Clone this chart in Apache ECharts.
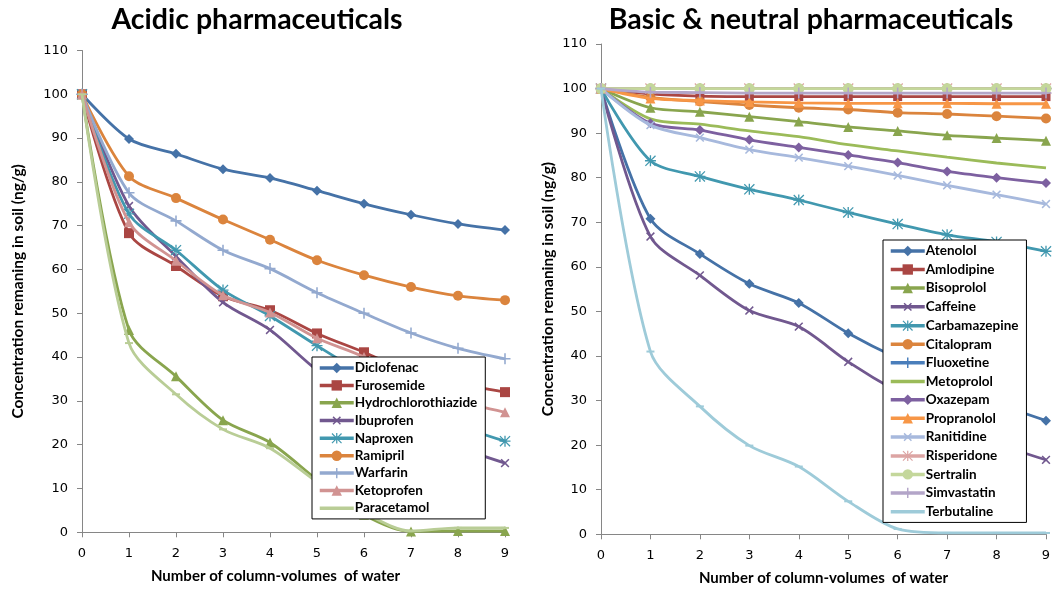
<!DOCTYPE html>
<html><head><meta charset="utf-8">
<script src="https://cdn.jsdelivr.net/npm/echarts@6/dist/echarts.min.js"></script>
<style>html,body{margin:0;padding:0;background:#fff}#c{width:1052px;height:590px}</style>
</head><body><div id="c"></div>
<script>
// ---- data ----
var xValues = [0,1,2,3,4,5,6,7,8,9];
var yTicks = [0,10,20,30,40,50,60,70,80,90,100,110];

// Acidic pharmaceuticals
var diclofenac = [100, 89.8, 86.4, 82.9, 80.9, 78.0, 75.0, 72.5, 70.4, 69.0];
var furosemide = [100, 68.3, 60.8, 53.9, 50.7, 45.4, 41.1, 36.5, 34.0, 32.0];
var hydrochlorothiazide = [100, 46.2, 35.6, 25.6, 20.5, 12.0, 4.0, 0.2, 0.3, 0.3];
var ibuprofen = [100, 74.5, 63.0, 52.5, 46.2, 37.0, 30.0, 24.5, 19.5, 15.8];
var naproxen = [100, 72.7, 64.4, 55.3, 49.4, 42.6, 36.0, 30.0, 24.5, 20.8];
var ramipril = [100, 81.3, 76.3, 71.4, 66.8, 62.1, 58.7, 56.0, 54.0, 53.0];
var warfarin = [100, 77.5, 71.1, 64.4, 60.2, 54.7, 50.0, 45.5, 42.0, 39.6];
var ketoprofen = [100, 70.8, 62.0, 54.1, 50.2, 44.3, 40.0, 33.5, 30.0, 27.4];
var paracetamol = [100, 43.2, 31.5, 23.5, 19.2, 11.5, 4.5, 0.3, 1.0, 1.0];

// Basic & neutral pharmaceuticals
var atenolol = [100, 70.8, 62.9, 56.2, 51.9, 45.1, 39.5, 35.0, 29.5, 25.5];
var amlodipine = [100, 98.8, 98.3, 98.2, 98.2, 98.2, 98.2, 98.2, 98.2, 98.2];
var bisoprolol = [100, 95.7, 94.8, 93.7, 92.6, 91.4, 90.5, 89.5, 88.9, 88.3];
var caffeine = [100, 66.8, 58.1, 50.2, 46.6, 38.7, 32.0, 26.5, 20.5, 16.7];
var carbamazepine = [100, 83.8, 80.3, 77.4, 75.0, 72.2, 69.6, 67.2, 65.6, 63.5];
var citalopram = [100, 98.0, 97.1, 96.3, 95.7, 95.3, 94.6, 94.3, 93.8, 93.3];
var fluoxetine = [100, 100, 100, 100, 100, 100, 100, 100, 100, 100];
var metoprolol = [100, 93.2, 92.0, 90.5, 89.2, 87.4, 86.0, 84.6, 83.3, 82.2];
var oxazepam = [100, 92.2, 90.7, 88.5, 86.8, 85.1, 83.4, 81.4, 80.0, 78.8];
var propranolol = [100, 97.8, 97.3, 97.0, 96.8, 96.7, 96.7, 96.7, 96.6, 96.6];
var ranitidine = [100, 91.8, 89.0, 86.3, 84.5, 82.6, 80.5, 78.3, 76.2, 74.1];
var risperidone = [100, 100, 100, 100, 100, 100, 100, 100, 100, 100];
var sertralin = [100, 100, 100, 100, 100, 100, 100, 100, 100, 100];
var simvastatin = [100, 99.2, 99.1, 99.0, 99.0, 99.0, 99.0, 99.0, 99.0, 99.0];
var terbutaline = [100, 41.0, 28.7, 19.9, 15.2, 7.4, 1.2, 0.3, 0.3, 0.3];

var leftNames = ['Diclofenac','Furosemide','Hydrochlorothiazide','Ibuprofen','Naproxen','Ramipril','Warfarin','Ketoprofen','Paracetamol'];
var leftData = [diclofenac, furosemide, hydrochlorothiazide, ibuprofen, naproxen, ramipril, warfarin, ketoprofen, paracetamol];
var rightNames = ['Atenolol','Amlodipine','Bisoprolol','Caffeine','Carbamazepine','Citalopram','Fluoxetine','Metoprolol','Oxazepam','Propranolol','Ranitidine','Risperidone','Sertralin','Simvastatin','Terbutaline'];
var rightData = [atenolol, amlodipine, bisoprolol, caffeine, carbamazepine, citalopram, fluoxetine, metoprolol, oxazepam, propranolol, ranitidine, risperidone, sertralin, simvastatin, terbutaline];

// ---- styles ----
var PLUS = 'path://M4.3,0H5.7V4.3H10V5.7H5.7V10H4.3V5.7H0V4.3H4.3Z';
var ASTER = 'path://M4.4,0H5.6V4.4H10V5.6H5.6V10H4.4V5.6H0V4.4H4.4Z M0.8,0L10,9.2L9.2,10L0,0.8Z M9.2,0L10,0.8L0.8,10L0,9.2Z';
var LINEICON = 'path://M0,0H0.01V13H0Z M0,5H34V8.5H0Z';
var sty = {
  'Diclofenac': ['#4572A7','diamond',10],
  'Furosemide': ['#AA4643','rect',10],
  'Hydrochlorothiazide': ['#89A54E','triangle',10],
  'Ibuprofen': ['#71588F',PLUS,11,45],
  'Naproxen': ['#4198AF',ASTER,11],
  'Ramipril': ['#DB843D','circle',10],
  'Warfarin': ['#93A9CF',PLUS,11],
  'Ketoprofen': ['#D19392','triangle',10],
  'Paracetamol': ['#B9CD96','rect',[8,2]],
  'Atenolol': ['#4572A7','diamond',10],
  'Amlodipine': ['#AA4643','rect',9],
  'Bisoprolol': ['#89A54E','triangle',10],
  'Caffeine': ['#71588F',PLUS,11,45],
  'Carbamazepine': ['#4198AF',ASTER,11],
  'Citalopram': ['#DB843D','circle',10],
  'Fluoxetine': ['#4A7EBB',PLUS,11],
  'Metoprolol': ['#9BBB59','none',0],
  'Oxazepam': ['#7D60A0','diamond',10],
  'Propranolol': ['#F79646','triangle',10],
  'Ranitidine': ['#A7B9DD',PLUS,11,45],
  'Risperidone': ['#DCA4A3',ASTER,11],
  'Sertralin': ['#C4D79B','circle',11],
  'Simvastatin': ['#B3A5C8',PLUS,11],
  'Terbutaline': ['#9ECBD9','rect',[8,2]]
};
var lineOnly = { 'Paracetamol': 1, 'Metoprolol': 1, 'Terbutaline': 1 };

function mkSeries(names, data, idx) {
  return names.map(function(n, i) {
    var s = sty[n];
    return {
      name: n, type: 'line', xAxisIndex: idx, yAxisIndex: idx,
      data: xValues.map(function(x, j){ return [x, data[i][j]]; }),
      smooth: 0.3, showSymbol: s[1] !== 'none',
      symbol: s[1], symbolSize: s[2], symbolRotate: s[3] || 0,
      lineStyle: { color: s[0], width: 2.8 },
      itemStyle: { color: s[0] },
      emphasis: { disabled: true }, animation: false, z: 2 + i * 0.01
    };
  });
}

var axisCol = '#868686';
function xAx(idx) {
  return {
    type: 'value', gridIndex: idx, min: 0, max: 9, interval: 1,
    name: 'Number of column-volumes  of water', nameLocation: 'middle', nameGap: 36,
    nameTextStyle: { fontFamily: 'Lato', fontWeight: 'bold', fontSize: 15, color: '#000', padding: idx === 0 ? [0, 36, 0, 0] : [0, 0, 0, 0] },
    axisLine: { lineStyle: { color: axisCol, width: 1 } },
    axisTick: { show: true, length: 5, lineStyle: { color: axisCol } },
    axisLabel: { fontFamily: 'DejaVu Sans', fontSize: 13, color: '#000', margin: 15 },
    splitLine: { show: false }
  };
}
function yAx(idx, gap) {
  return {
    type: 'value', gridIndex: idx, min: yTicks[0], max: yTicks[yTicks.length-1], interval: 10,
    name: 'Concentration remaning in soil (ng/g)', nameLocation: 'middle', nameGap: gap,
    nameTextStyle: { fontFamily: 'Lato', fontWeight: 'bold', fontSize: 15.5, color: '#000' },
    axisLine: { show: true, lineStyle: { color: axisCol, width: 1 } },
    axisTick: { show: true, length: 5, lineStyle: { color: axisCol } },
    axisLabel: { fontFamily: 'DejaVu Sans', fontSize: 13, color: '#000', margin: 14 },
    splitLine: { show: false }
  };
}
function lg(names, left, top, gap) {
  return {
    data: names.map(function(n){ return lineOnly[n] ? { name: n, icon: LINEICON } : { name: n }; }),
    orient: 'vertical', left: left, top: top, z: 20,
    itemWidth: 34, itemHeight: 13, itemGap: gap, padding: [4, 8, 4, 6],
    backgroundColor: '#fff', borderColor: '#000', borderWidth: 1,
    lineStyle: { width: 3.5 },
    textStyle: { fontFamily: 'Lato', fontWeight: 'bold', fontSize: 13.5, color: '#000', padding: [0,0,0,-4] },
    selectedMode: false
  };
}

var chart = echarts.init(document.getElementById('c'), null, { renderer: 'canvas' });
chart.setOption({
  animation: false,
  backgroundColor: '#fff',
  graphic: [
    { type: 'text', x: 257, y: 20, style: { text: 'Acidic pharmaceuticals', font: 'bold 28.5px Lato', fill: '#000', textAlign: 'center', textVerticalAlign: 'middle' } },
    { type: 'text', x: 811, y: 20, style: { text: 'Basic & neutral pharmaceuticals', font: 'bold 28.5px Lato', fill: '#000', textAlign: 'center', textVerticalAlign: 'middle' } }
  ],
  grid: [
    { left: 82, right: 547, top: 50.5, bottom: 57.7, containLabel: false, outerBoundsMode: 'none' },
    { left: 601, right: 6, top: 44, bottom: 55.7, containLabel: false, outerBoundsMode: 'none' }
  ],
  xAxis: [xAx(0), xAx(1)],
  yAxis: [yAx(0, 56), yAx(1, 45)],
  legend: [lg(leftNames, 312, 357, 3.4), lg(rightNames, 883, 240, 4.5)],
  series: mkSeries(leftNames, leftData, 0).concat(mkSeries(rightNames, rightData, 1))
});
</script></body></html>
